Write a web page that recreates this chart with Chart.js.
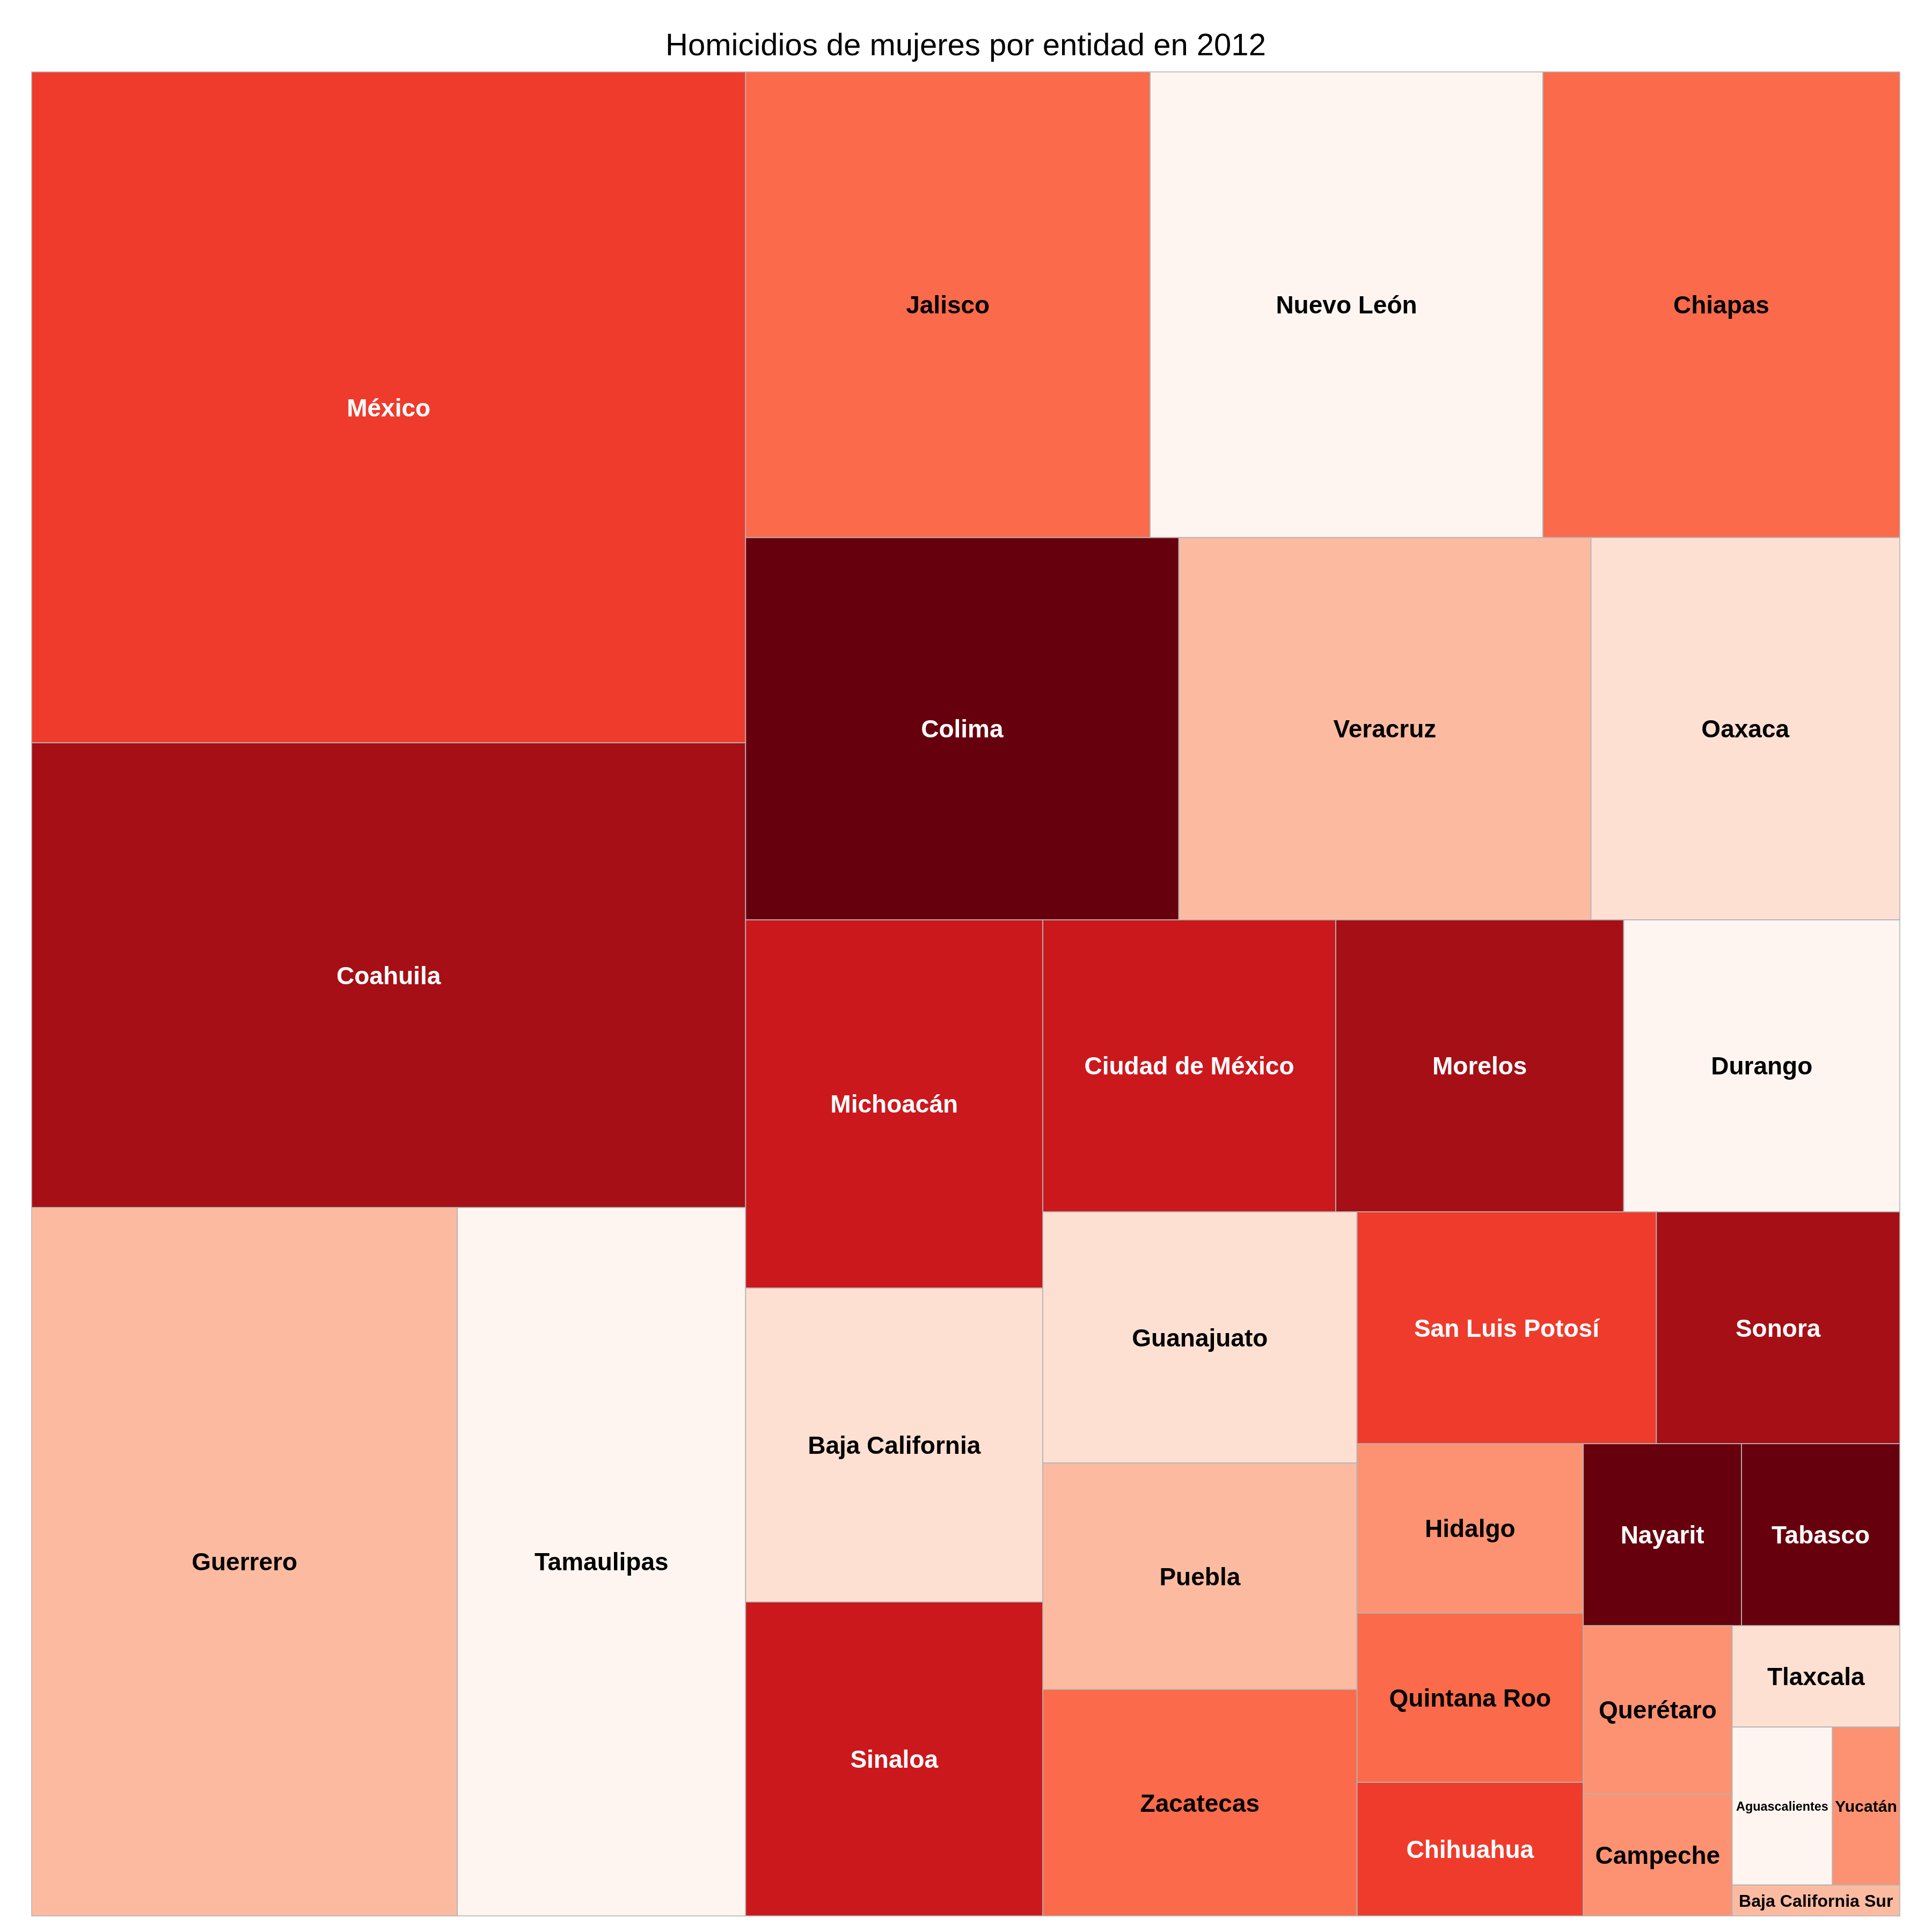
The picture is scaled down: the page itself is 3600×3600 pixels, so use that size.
<!DOCTYPE html>
<html>
<head>
<meta charset="utf-8">
<script src="https://cdn.jsdelivr.net/npm/chart.js@4"></script>
<style>
  html, body { margin: 0; padding: 0; background: #ffffff; }
  #wrap { width: 3600px; height: 3600px; }
</style>
</head>
<body>
<div id="wrap"><canvas id="c" width="3600" height="3600"></canvas></div>
<script>
// ---------------- DATA ----------------
const chartTitle = 'Homicidios de mujeres por entidad en 2012';

const states = [
  'México', 'Coahuila', 'Guerrero', 'Tamaulipas', 'Jalisco', 'Nuevo León',
  'Chiapas', 'Colima', 'Veracruz', 'Oaxaca', 'Michoacán', 'Baja California',
  'Sinaloa', 'Ciudad de México', 'Morelos', 'Durango', 'Guanajuato', 'Puebla',
  'Zacatecas', 'San Luis Potosí', 'Sonora', 'Hidalgo', 'Quintana Roo',
  'Chihuahua', 'Nayarit', 'Tabasco', 'Querétaro', 'Campeche', 'Tlaxcala',
  'Aguascalientes', 'Yucatán', 'Baja California Sur'
];

const values = [
  166.3, 115.2, 104.7, 70.9, 65.4, 63.5,
  57.7, 57.5, 54.7, 41.0, 38.0, 32.4,
  32.4, 29.7, 29.2, 28.0, 27.4, 24.7,
  24.7, 24.1, 19.6, 13.3, 13.3,
  10.5, 10.0, 10.0, 8.7, 6.3, 5.9,
  5.5, 3.7, 1.8
];

// colour class (0 = lightest ... 8 = darkest)
const colorLevels = [
  5, 7, 2, 0, 4, 0,
  4, 8, 2, 1, 6, 1,
  6, 6, 7, 0, 1, 2,
  4, 5, 7, 3, 4,
  5, 8, 8, 3, 3, 1,
  0, 3, 2
];

const palette = ['#fff5f0', '#fee0d2', '#fcbba1', '#fc9272', '#fb6a4a',
                 '#ef3b2c', '#cb181d', '#a50f15', '#67000d'];

// ---------------- PIVOT-BY-SIZE TREEMAP LAYOUT ----------------
function sum(arr) { return arr.reduce((s, d) => s + d.v, 0); }

function pivotLayout(items, x, y, w, h, out) {
  if (items.length === 0 || w <= 0 || h <= 0) return;
  if (items.length === 1) { out.push({ d: items[0], x, y, w, h }); return; }
  const p = items[0];
  const rest = items.slice(1);
  const total = sum(items);
  let bestK = 0, bestAsp = Infinity;
  for (let k = 0; k <= rest.length; k++) {
    const a = p.v + sum(rest.slice(0, k));
    let pw, ph;
    if (w >= h) { pw = w * a / total; ph = h * p.v / a; }
    else { ph = h * a / total; pw = w * p.v / a; }
    const asp = Math.max(pw / ph, ph / pw);
    if (asp < bestAsp - 1e-12) { bestAsp = asp; bestK = k; }
  }
  const L2 = rest.slice(0, bestK), L3 = rest.slice(bestK);
  const a = p.v + sum(L2);
  if (w >= h) {
    const cw = w * a / total;
    const ph = h * p.v / a;
    out.push({ d: p, x, y, w: cw, h: ph });
    pivotLayout(L2, x, y + ph, cw, h - ph, out);
    pivotLayout(L3, x + cw, y, w - cw, h, out);
  } else {
    const bh = h * a / total;
    const pw = w * p.v / a;
    out.push({ d: p, x, y, w: pw, h: bh });
    pivotLayout(L2, x + pw, y, w - pw, bh, out);
    pivotLayout(L3, x, y + bh, w, h - bh, out);
  }
}

const treemapPlugin = {
  id: 'treemapCells',
  afterDatasetsDraw(chart) {
    const ctx = chart.ctx;
    const area = chart.chartArea;
    const xs = chart.scales.x, ys = chart.scales.y;
    const W = area.right - area.left, H = area.bottom - area.top;
    const items = states.map((s, i) => ({ name: s, v: values[i], c: colorLevels[i], idx: i }));
    items.sort((a, b) => b.v - a.v || a.idx - b.idx);
    const cells = [];
    pivotLayout(items, 0, 0, W, H, cells);
    ctx.save();
    cells.forEach(cell => {
      const x0 = xs.getPixelForValue(cell.x / W);
      const x1 = xs.getPixelForValue((cell.x + cell.w) / W);
      const y0 = ys.getPixelForValue(cell.y / H);
      const y1 = ys.getPixelForValue((cell.y + cell.h) / H);
      cell.px = { x0, x1, y0, y1 };
      ctx.fillStyle = palette[cell.d.c];
      ctx.fillRect(x0, y0, x1 - x0, y1 - y0);
    });
    ctx.strokeStyle = '#b4b4b4';
    ctx.lineWidth = 1.6;
    cells.forEach(cell => {
      const r = cell.px;
      ctx.strokeRect(r.x0, r.y0, r.x1 - r.x0, r.y1 - r.y0);
    });
    const baseSize = 46;
    const family = '"Liberation Sans", Arial, Helvetica, sans-serif';
    ctx.textAlign = 'center';
    ctx.textBaseline = 'alphabetic';
    cells.forEach(cell => {
      const r = cell.px;
      const cw = r.x1 - r.x0;
      ctx.font = 'bold ' + baseSize + 'px ' + family;
      const tw = ctx.measureText(cell.d.name).width;
      let fs = baseSize;
      if (tw > 0.92 * cw) fs = baseSize * 0.92 * cw / tw;
      ctx.font = 'bold ' + fs.toFixed(2) + 'px ' + family;
      ctx.fillStyle = cell.d.c >= 5 ? '#ffffff' : '#000000';
      const cx = (r.x0 + r.x1) / 2;
      const cy = (r.y0 + r.y1) / 2;
      ctx.fillText(cell.d.name, cx, cy + 0.358 * fs);
    });
    ctx.restore();
  }
};

new Chart(document.getElementById('c'), {
  type: 'scatter',
  data: { datasets: [{ label: 'entidades', data: [] }] },
  options: {
    responsive: false,
    devicePixelRatio: 1,
    animation: false,
    layout: { padding: { left: 59, right: 60, top: 0, bottom: 30 } },
    scales: {
      x: { type: 'linear', min: 0, max: 1, display: false },
      y: { type: 'linear', min: 0, max: 1, reverse: true, display: false }
    },
    plugins: {
      legend: { display: false },
      tooltip: { enabled: false },
      title: {
        display: true,
        text: chartTitle,
        color: '#000000',
        font: { family: '"Liberation Sans", Arial, Helvetica, sans-serif', size: 58, weight: 'normal', lineHeight: 1.2 },
        padding: { top: 52, bottom: 12.4 }
      }
    }
  },
  plugins: [treemapPlugin]
});
</script>
</body>
</html>
